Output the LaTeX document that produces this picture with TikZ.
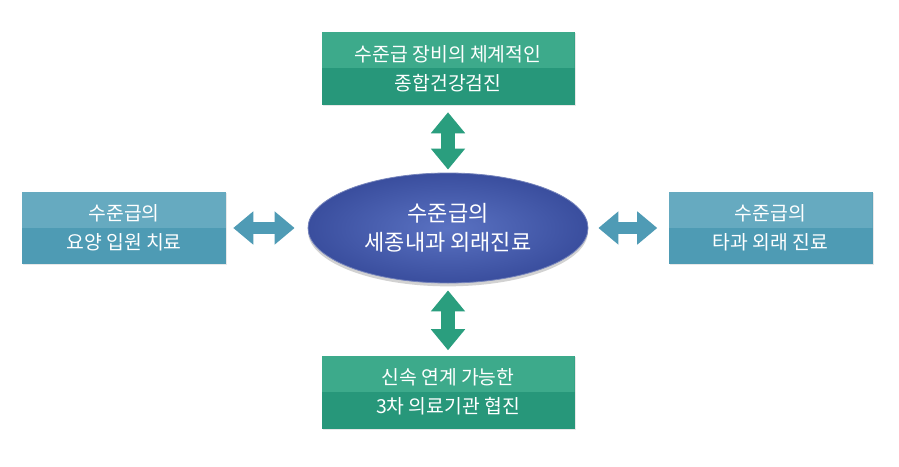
\documentclass[tikz,border=0pt]{standalone}
\usepackage{fontspec}
\newfontfamily\kr{Noto Sans CJK KR}
\usetikzlibrary{arrows.meta,shadows,shapes.geometric}
\definecolor{gtop}{HTML}{3DAA8B}
\definecolor{gbot}{HTML}{27977A}
\definecolor{btop}{HTML}{66AAC0}
\definecolor{bbot}{HTML}{4E9BB4}
\definecolor{ellin}{HTML}{5A72C2}
\definecolor{ellout}{HTML}{3A4E9E}
\definecolor{garrow}{HTML}{2A9E7E}
\definecolor{barrow}{HTML}{4F9BB5}
\begin{document}
\begin{tikzpicture}[x=0.75pt,y=-0.75pt,
  box/.style={draw=none, text=white, font=\kr\fontsize{14.5}{22}\selectfont, align=center, inner sep=0pt,
    drop shadow={opacity=0.18, shadow xshift=0.8pt, shadow yshift=-0.8pt}},
  gbox/.style={box, fill=gbot, minimum width=189.75pt, minimum height=54.75pt,
    path picture={\fill[gtop] (path picture bounding box.north west) rectangle (path picture bounding box.east);}},
  bbox/.style={box, fill=bbot, minimum width=153pt, minimum height=54pt,
    path picture={\fill[btop] (path picture bounding box.north west) rectangle (path picture bounding box.east);}},
  ellnode/.style={ellipse, inner sep=0pt, minimum width=210pt, minimum height=82.5pt,
    inner color=ellin, outer color=ellout, draw=ellout!70!white, line width=0.6pt,
    text=white, font=\kr\fontsize{16.5}{21.5}\selectfont, align=center,
    drop shadow={opacity=0.35, shadow xshift=0pt, shadow yshift=-2.5pt}},
  varrow/.style={garrow, line width=10.5pt, {Triangle[width=24.75pt,length=15.75pt]}-{Triangle[width=24.75pt,length=15.75pt]}},
  harrow/.style={barrow, line width=9pt, {Triangle[width=24pt,length=15pt]}-{Triangle[width=24pt,length=15pt]}}
]
\useasboundingbox (0,0) rectangle (899,467);
\fill[white] (0,0) rectangle (899,467);

\node[ellnode] (ell) at (448,228) {수준급의\\세종내과 외래진료};
\node[gbox] (top) at (448,68.5) {수준급 장비의 체계적인\\종합건강검진};
\node[gbox] (bot) at (448,392) {신속 연계 가능한\\3차 의료기관 협진};
\node[bbox] (left) at (124,228) {수준급의\\요양 입원 치료};
\node[bbox] (right) at (770.5,228) {수준급의\\타과 외래 진료};

\draw[varrow, shorten <=5.25pt, shorten >=2.25pt] (top) -- (ell);
\draw[varrow, shorten <=5.25pt, shorten >=3.75pt] (ell) -- (bot);
\draw[harrow, shorten <=5.25pt, shorten >=9.75pt] (left) -- (ell);
\draw[harrow, shorten <=7.5pt, shorten >=8.25pt] (ell) -- (right);
\end{tikzpicture}
\end{document}
